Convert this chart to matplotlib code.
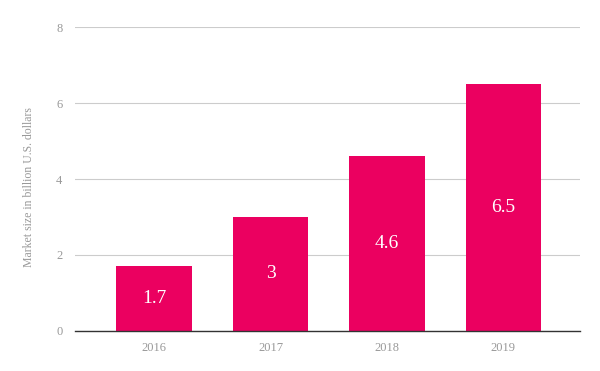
import matplotlib.pyplot as plt

# data
years = ['2016', '2017', '2018', '2019']
market_size = [1.7, 3, 4.6, 6.5]

bar_color = '#eb0060'
grey = '#999999'

plt.rcParams['font.family'] = ['Liberation Serif', 'DejaVu Serif']

fig = plt.figure(figsize=(6, 3.71), dpi=100)
ax = fig.add_axes([0.125, 0.108, 0.842, 0.819])

x = list(range(len(years)))
bars = ax.bar(x, market_size, width=0.65, color=bar_color, zorder=3)

for b, v in zip(bars, market_size):
    ax.text(b.get_x() + b.get_width() / 2, v / 2, '{:g}'.format(v),
            ha='center', va='center', color='white', fontsize=14, zorder=4)

ax.set_xlim(-0.68, 3.66)
ax.set_ylim(0, 8)
ax.set_yticks([0, 2, 4, 6, 8])
ax.set_xticks(x)
ax.set_xticklabels(years)

ax.grid(axis='y', color='#cccccc', linewidth=0.8, zorder=0)
for s in ['top', 'right', 'left']:
    ax.spines[s].set_visible(False)
ax.spines['bottom'].set_color('#333333')
ax.spines['bottom'].set_linewidth(1)
ax.spines['bottom'].set_zorder(5)

ax.tick_params(axis='both', length=0, colors=grey, labelsize=9)
ax.tick_params(axis='y', pad=9)
ax.tick_params(axis='x', pad=8)

ax.set_ylabel('Market size in billion U.S. dollars', color=grey, fontsize=8.5)
ax.yaxis.set_label_coords(-0.08, 0.474)

fig.savefig('out.png', dpi=100)
